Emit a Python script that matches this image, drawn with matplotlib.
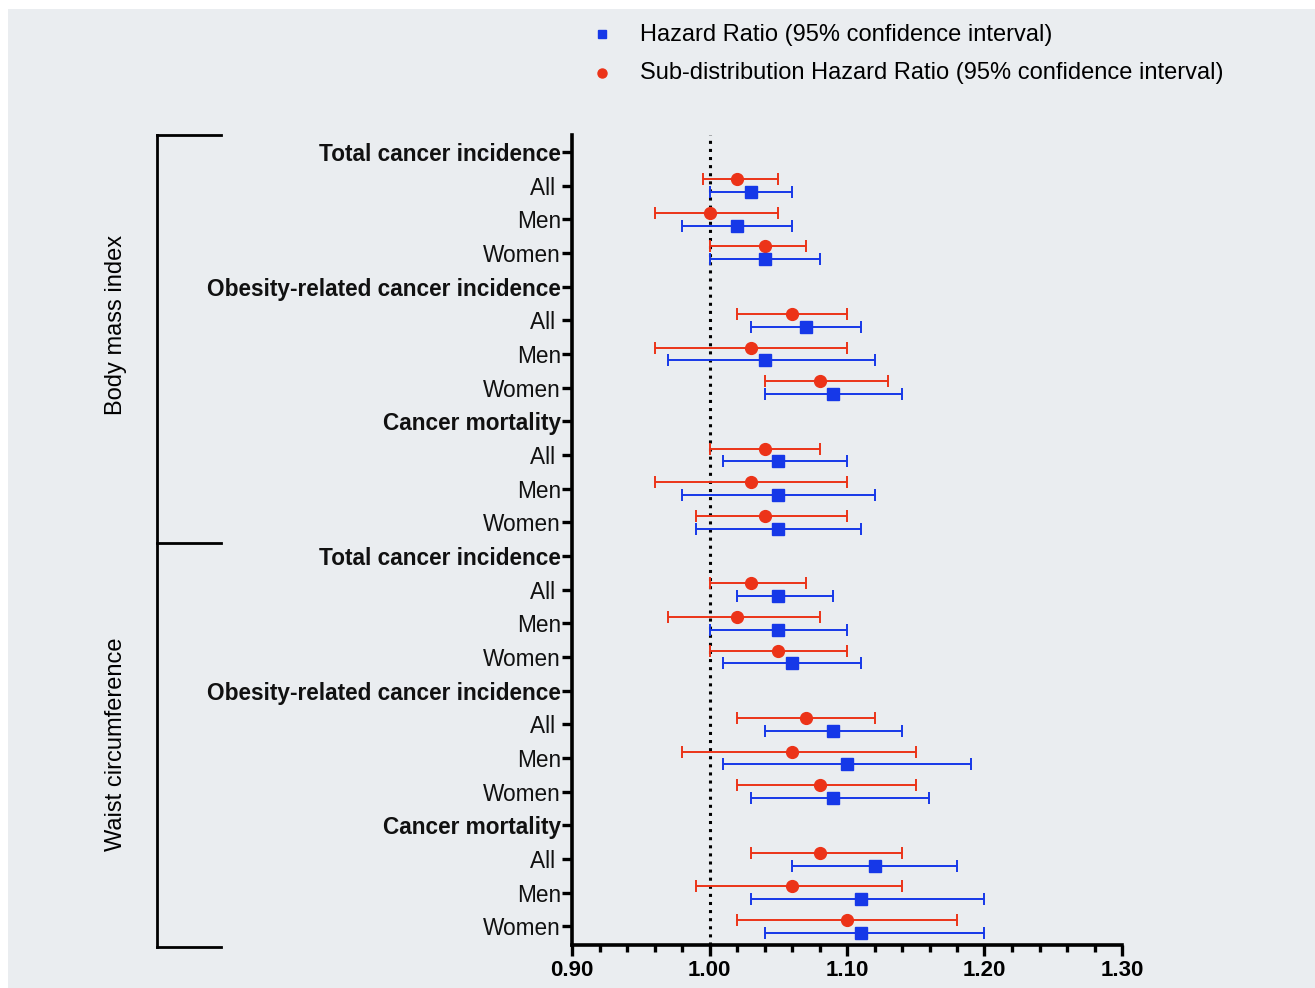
import numpy as np
import matplotlib.pyplot as plt
import matplotlib.transforms as mtransforms
from matplotlib.lines import Line2D
from matplotlib.patches import Rectangle

plt.rcParams['font.family'] = ['Liberation Sans', 'DejaVu Sans']

# ─────────────────────────────────────────
# Data
# ─────────────────────────────────────────
row_labels = [
    "Total cancer incidence", "All ", "Men", "Women",
    "Obesity-related cancer incidence", "All ", "Men", "Women",
    "Cancer mortality", "All ", "Men", "Women",
    "Total cancer incidence", "All ", "Men", "Women",
    "Obesity-related cancer incidence", "All ", "Men", "Women",
    "Cancer mortality", "All ", "Men", "Women",
]
heading_rows = [0, 4, 8, 12, 16, 20]
data_rows = [r for r in range(len(row_labels)) if r not in heading_rows]

# Hazard Ratio (blue squares)
hr    = [1.03, 1.02, 1.04, 1.07, 1.04, 1.09, 1.05, 1.05, 1.05,
         1.05, 1.05, 1.06, 1.09, 1.10, 1.09, 1.12, 1.11, 1.11]
hr_lo = [1.00, 0.98, 1.00, 1.03, 0.97, 1.04, 1.01, 0.98, 0.99,
         1.02, 1.00, 1.01, 1.04, 1.01, 1.03, 1.06, 1.03, 1.04]
hr_hi = [1.06, 1.06, 1.08, 1.11, 1.12, 1.14, 1.10, 1.12, 1.11,
         1.09, 1.10, 1.11, 1.14, 1.19, 1.16, 1.18, 1.20, 1.20]

# Sub-distribution Hazard Ratio (red circles)
shr    = [1.02, 1.00, 1.04, 1.06, 1.03, 1.08, 1.04, 1.03, 1.04,
          1.03, 1.02, 1.05, 1.07, 1.06, 1.08, 1.08, 1.06, 1.10]
shr_lo = [0.995, 0.96, 1.00, 1.02, 0.96, 1.04, 1.00, 0.96, 0.99,
          1.00, 0.97, 1.00, 1.02, 0.98, 1.02, 1.03, 0.99, 1.02]
shr_hi = [1.05, 1.05, 1.07, 1.10, 1.10, 1.13, 1.08, 1.10, 1.10,
          1.07, 1.08, 1.10, 1.12, 1.15, 1.15, 1.14, 1.14, 1.18]

group_labels = ["Body mass index", "Waist circumference"]

BLUE = "#1638e8"
RED  = "#ec3318"
BG   = "#eaedf0"

# ─────────────────────────────────────────
# Figure
# ─────────────────────────────────────────
W, H = 1315, 988
fig = plt.figure(figsize=(W / 100, H / 100), dpi=100, facecolor="white")
fig.patches.append(Rectangle((8 / W, 0), 1, 1 - 9 / H, transform=fig.transFigure,
                             facecolor=BG, edgecolor="none", zorder=-10))

ax = fig.add_axes([572 / W, 1 - 945 / H, 550 / W, 810 / H])
ax.set_facecolor("none")

rows = np.array(data_rows, dtype=float)
hr_a, shr_a = np.array(hr), np.array(shr)
off = 0.19

ax.axvline(1.0, color="black", ls=":", lw=2.2, zorder=1)

ax.errorbar(shr_a, rows - off,
            xerr=[shr_a - np.array(shr_lo), np.array(shr_hi) - shr_a],
            fmt="o", color=RED, ecolor=RED, markersize=8.5, elinewidth=1.4,
            capsize=4.3, capthick=1.4, zorder=3)
ax.errorbar(hr_a, rows + off,
            xerr=[hr_a - np.array(hr_lo), np.array(hr_hi) - hr_a],
            fmt="s", color=BLUE, ecolor=BLUE, markersize=8, elinewidth=1.4,
            capsize=4.3, capthick=1.4, zorder=3)

ax.set_xlim(0.90, 1.30)
ax.set_ylim(len(row_labels) - 0.45, -0.5)

ax.set_xticks(np.arange(0.90, 1.301, 0.10))
ax.set_xticklabels([f"{v:.2f}" for v in np.arange(0.90, 1.301, 0.10)],
                   fontsize=16, fontweight="bold")
ax.set_xticks(np.arange(0.90, 1.301, 0.02), minor=True)

ax.set_yticks(range(len(row_labels)))
ax.set_yticklabels(row_labels, fontsize=16.3, color="#111111")
for r in heading_rows:
    ax.get_yticklabels()[r].set_fontweight("bold")

ax.tick_params(axis="both", which="major", direction="out", width=2.4,
               length=7, color="black", pad=1)
ax.tick_params(axis="x", which="minor", direction="out", width=2.4, length=5)
ax.tick_params(axis="x", which="major", length=8, pad=3)

for s in ["top", "right"]:
    ax.spines[s].set_visible(False)
for s in ["left", "bottom"]:
    ax.spines[s].set_linewidth(2.6)

# ─────────────────────────────────────────
# Group brackets on the left
# ─────────────────────────────────────────
trans = mtransforms.blended_transform_factory(fig.transFigure, ax.transData)
bx0, bx1 = 157 / W, 221 / W
y_top, y_mid, y_bot = -0.5, 11.6, len(row_labels) - 0.4
fig.add_artist(Line2D([bx0, bx0], [y_top, y_bot], transform=trans,
                      color="black", lw=2))
for yy in (y_top, y_mid, y_bot):
    fig.add_artist(Line2D([bx0, bx1], [yy, yy], transform=trans,
                          color="black", lw=2))

fig.text(116 / W, 5.15, group_labels[0], transform=trans, rotation=90,
         ha="center", va="center", fontsize=17)
fig.text(116 / W, 17.6, group_labels[1], transform=trans, rotation=90,
         ha="center", va="center", fontsize=17)

# ─────────────────────────────────────────
# Legend
# ─────────────────────────────────────────
fig.add_artist(Line2D([602 / W], [1 - 34 / H], transform=fig.transFigure,
                      marker="s", color=BLUE, markersize=6, ls="none"))
fig.add_artist(Line2D([602 / W], [1 - 73 / H], transform=fig.transFigure,
                      marker="o", color=RED, markersize=6.5, ls="none"))
fig.text(640 / W, 1 - 35 / H, "Hazard Ratio (95% confidence interval)",
         ha="left", va="center", fontsize=17)
fig.text(640 / W, 1 - 73 / H,
         "Sub-distribution Hazard Ratio (95% confidence interval)",
         ha="left", va="center", fontsize=17)

fig.savefig("out.png", dpi=100, facecolor=fig.get_facecolor())
